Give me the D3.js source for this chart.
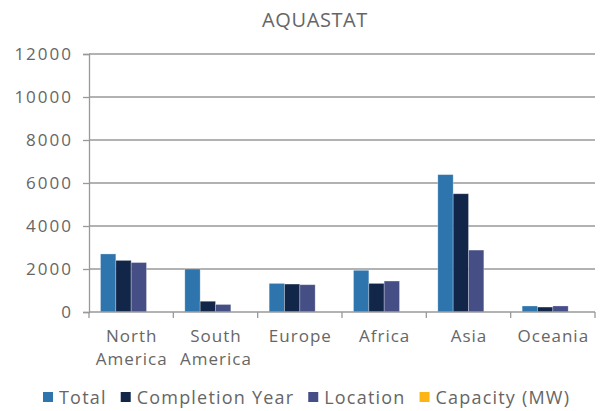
<!DOCTYPE html>
<html>
<head>
<meta charset="utf-8">
<script src="https://cdn.jsdelivr.net/npm/d3@7"></script>
<style>
    body { margin: 0; background: #fff; }
    svg text { font-family: "Open Sans", sans-serif; fill: #666; }
</style>
</head>
<body>
<svg id="chart" width="602" height="411"></svg>
<script>
(function() {
    'use strict';

    var regions = [['North', 'America'], ['South', 'America'], ['Europe'], ['Africa'], ['Asia'], ['Oceania']];
    var seriesNames = ['Total', 'Completion Year', 'Location', 'Capacity (MW)'];
    var total = [2700, 2000, 1330, 1940, 6390, 280];
    var completionYear = [2400, 500, 1300, 1330, 5500, 230];
    var location = [2300, 350, 1270, 1440, 2880, 280];
    var capacity = [0, 0, 0, 0, 0, 0];
    var yTicks = [0, 2000, 4000, 6000, 8000, 10000, 12000];
    var colors = ['#2e75ad', '#12264a', '#464e86', '#fdb515'];

    var values = [total, completionYear, location, capacity];
    var svg = d3.select('#chart');
    var m = { left: 89, right: 595, top: 54, bottom: 312 };

    var x = d3.scaleBand()
        .domain(d3.range(regions.length))
        .range([m.left, m.right]);

    // gap width 150% of one bar, like the office chart
    var xs = d3.scaleBand()
        .domain(d3.range(seriesNames.length))
        .range([0, x.bandwidth()])
        .paddingOuter(0.75);

    var y = d3.scaleLinear()
        .domain([0, 12000])
        .range([m.bottom, m.top]);

    // gridlines
    svg.append('g')
        .selectAll('line')
        .data(yTicks.slice(1))
        .enter().append('line')
        .attr('x1', m.left).attr('x2', m.right)
        .attr('y1', function(d) { return y(d); })
        .attr('y2', function(d) { return y(d); })
        .style('stroke', '#999')
        .style('stroke-width', 1.3);

    // bars
    var groups = svg.append('g')
        .selectAll('g')
        .data(regions)
        .enter().append('g')
        .attr('transform', function(d, i) { return 'translate(' + x(i) + ',0)'; });

    groups.selectAll('rect')
        .data(function(d, i) {
            return values.map(function(s, j) { return { s: j, v: s[i] }; });
        })
        .enter().append('rect')
        .filter(function(d) { return d.v > 0; })
        .attr('x', function(d) { return xs(d.s); })
        .attr('width', xs.bandwidth())
        .attr('y', function(d) { return y(d.v); })
        .attr('height', function(d) { return y(0) - y(d.v); })
        .style('fill', function(d) { return colors[d.s]; })
        .style('stroke', 'rgba(255,255,255,0.35)')
        .style('stroke-width', 0.8);

    // y axis
    var yAxis = svg.append('g')
        .attr('transform', 'translate(' + m.left + ',0)')
        .call(d3.axisLeft(y).tickValues(yTicks).tickSize(6).tickPadding(10).tickFormat(d3.format('d')));
    yAxis.select('.domain').style('stroke', '#999').style('stroke-width', 1.3);
    yAxis.selectAll('.tick line').style('stroke', '#999').style('stroke-width', 1.3);
    yAxis.selectAll('.tick text')
        .style('font-size', '17px')
        .style('letter-spacing', '2px')
        .style('fill', '#666');

    // x axis
    var xAxis = svg.append('g')
        .attr('transform', 'translate(0,' + m.bottom + ')');
    xAxis.append('line')
        .attr('x1', m.left).attr('x2', m.right)
        .style('stroke', '#999').style('stroke-width', 1.3);
    xAxis.selectAll('.xt')
        .data(d3.range(regions.length + 1))
        .enter().append('line')
        .attr('x1', function(i) { return m.left + i * x.step(); })
        .attr('x2', function(i) { return m.left + i * x.step(); })
        .attr('y1', 0).attr('y2', 6)
        .style('stroke', '#999').style('stroke-width', 1.3);

    var labels = xAxis.selectAll('.xl')
        .data(regions)
        .enter().append('text')
        .attr('text-anchor', 'middle')
        .attr('transform', function(d, i) { return 'translate(' + (x(i) + x.bandwidth() / 2 + 0.5) + ',30)'; })
        .style('font-size', '17px')
        .style('letter-spacing', '1px');
    labels.selectAll('tspan')
        .data(function(d) { return d; })
        .enter().append('tspan')
        .attr('x', 0)
        .attr('dy', function(d, i) { return i ? 23 : 0; })
        .text(function(d) { return d; });

    // title
    svg.append('text')
        .attr('x', 315).attr('y', 27)
        .attr('text-anchor', 'middle')
        .style('font-size', '20px')
        .style('letter-spacing', '0.6px')
        .style('fill', '#666')
        .text('AQUASTAT');

    // legend
    var legend = svg.append('g').attr('transform', 'translate(43,397)');
    var offset = 0;
    seriesNames.forEach(function(name, i) {
        var g = legend.append('g').attr('transform', 'translate(' + offset + ',0)');
        g.append('rect')
            .attr('x', 0).attr('y', -5)
            .attr('width', 10).attr('height', 10)
            .style('fill', colors[i]);
        var t = g.append('text')
            .attr('x', 16).attr('y', 6.5)
            .style('font-size', '18px')
            .style('letter-spacing', '1.2px')
            .text(name);
        offset += 16 + t.node().getComputedTextLength() + 14;
    });
})();
</script>
</body>
</html>
